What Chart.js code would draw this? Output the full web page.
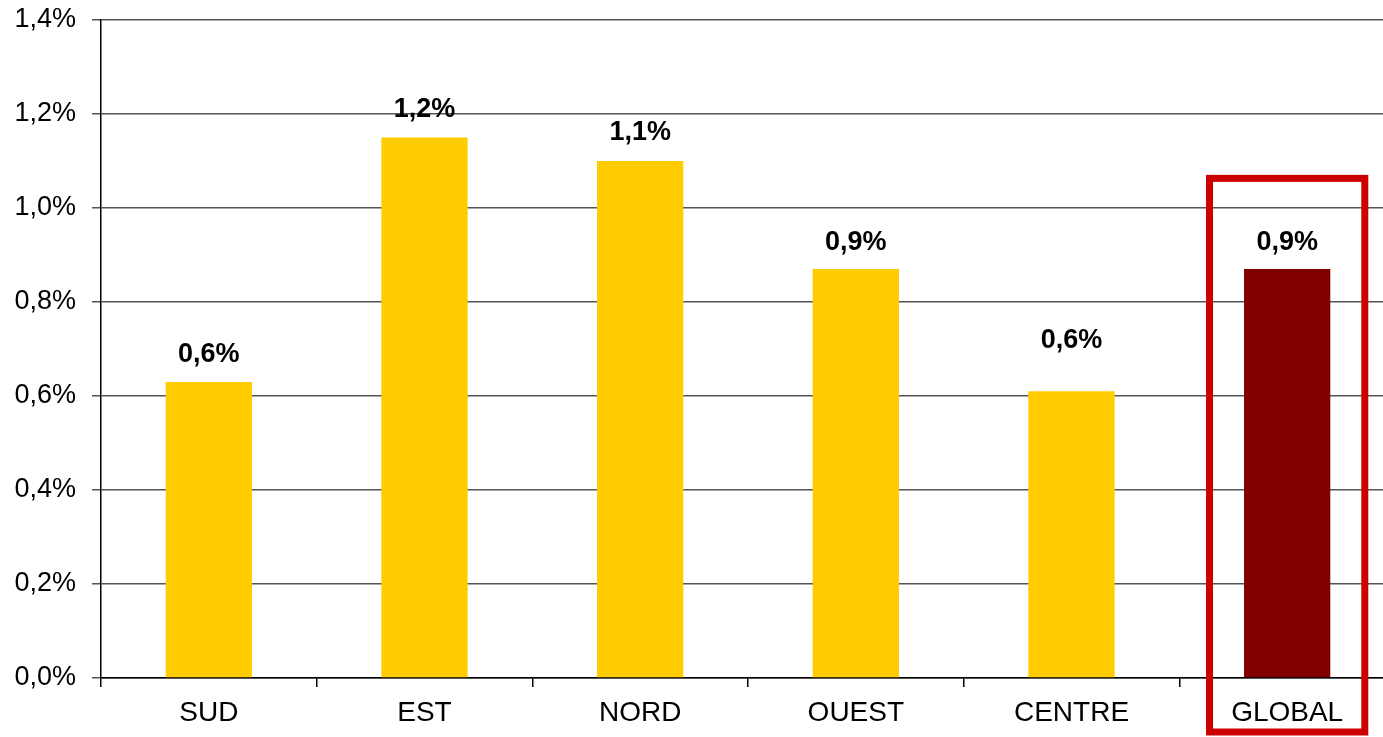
<!DOCTYPE html>
<html>
<head>
<meta charset="utf-8">
<script src="https://cdn.jsdelivr.net/npm/chart.js@4"></script>
<style>
  html, body { margin: 0; padding: 0; background: #fff; overflow: hidden; }
  #wrap { width: 1400px; height: 737px; }
</style>
</head>
<body>
<div id="wrap"><canvas id="chart"></canvas></div>
<script>
const regions = ["SUD", "EST", "NORD", "OUEST", "CENTRE", "GLOBAL"];
const rates = [0.63, 1.15, 1.10, 0.87, 0.61, 0.87];
const rateLabels = ["0,6%", "1,2%", "1,1%", "0,9%", "0,6%", "0,9%"];
const barColors = ["#FFCC00", "#FFCC00", "#FFCC00", "#FFCC00", "#FFCC00", "#800000"];

const fmt = (v) => v.toFixed(1).replace(".", ",") + "%";

// value labels above the bars
const valueLabels = {
  id: "valueLabels",
  afterDatasetsDraw(chart, args, opts) {
    const ctx = chart.ctx;
    const bars = chart.getDatasetMeta(0).data;
    ctx.save();
    ctx.font = "bold 27px 'Liberation Sans', Arial, sans-serif";
    ctx.fillStyle = "#000";
    ctx.textAlign = "center";
    ctx.textBaseline = "middle";
    bars.forEach((bar, i) => {
      const off = opts.offsets[i] || 27;
      ctx.fillText(rateLabels[i], bar.x, bar.y - off);
    });
    ctx.restore();
  }
};

// red frame around the GLOBAL column
const highlight = {
  id: "highlight",
  afterDraw(chart, args, opts) {
    const x = chart.scales.x;
    const y = chart.scales.y;
    const i = regions.indexOf(opts.category);
    const cw = (x.right - x.left) / regions.length;
    const cx = x.getPixelForValue(i);
    const half = cw * 0.36;
    const top = y.getPixelForValue(opts.from);
    const bottom = y.bottom + 54;
    const ctx = chart.ctx;
    ctx.save();
    ctx.strokeStyle = "#CC0000";
    ctx.lineWidth = 7;
    ctx.strokeRect(cx - half, top, half * 2, bottom - top);
    ctx.restore();
  }
};

new Chart(document.getElementById("chart"), {
  type: "bar",
  data: {
    labels: regions,
    datasets: [
      {
        data: rates,
        backgroundColor: barColors,
        borderWidth: 0,
        categoryPercentage: 1,
        barPercentage: 0.4,
      },
    ],
  },
  options: {
    responsive: true,
    maintainAspectRatio: false,
    animation: false,
    layout: { padding: { top: 20, right: 5, left: 0, bottom: 0 } },
    plugins: {
      legend: { display: false },
      tooltip: { enabled: false },
      valueLabels: { offsets: [27, 28, 28, 27, 51, 27] },
      highlight: { category: "GLOBAL", from: 1.063 },
    },
    scales: {
      x: {
        offset: true,
        grid: {
          offset: true,
          drawOnChartArea: false,
          drawTicks: true,
          tickLength: 9,
          color: "#000",
          lineWidth: 1.5,
        },
        border: { color: "#000", width: 1.5 },
        ticks: {
          color: "#000",
          padding: 9,
          font: { family: "'Liberation Sans', Arial, sans-serif", size: 28 },
        },
        afterFit(scale) {
          scale.height = 59;
          scale.paddingLeft = 0;
          scale.paddingRight = 0;
        },
      },
      y: {
        min: 0,
        max: 1.4,
        ticks: {
          stepSize: 0.2,
          color: "#000",
          padding: 16,
          font: { family: "'Liberation Sans', Arial, sans-serif", size: 27 },
          callback: (v) => fmt(v),
        },
        grid: {
          color: "#555",
          lineWidth: 1.5,
          tickLength: 9,
        },
        border: { color: "#000", width: 1.5 },
        afterFit(scale) {
          scale.width = 101;
          scale.paddingTop = 0;
          scale.paddingBottom = 0;
        },
      },
    },
  },
  plugins: [valueLabels, highlight],
});
</script>
</body>
</html>
